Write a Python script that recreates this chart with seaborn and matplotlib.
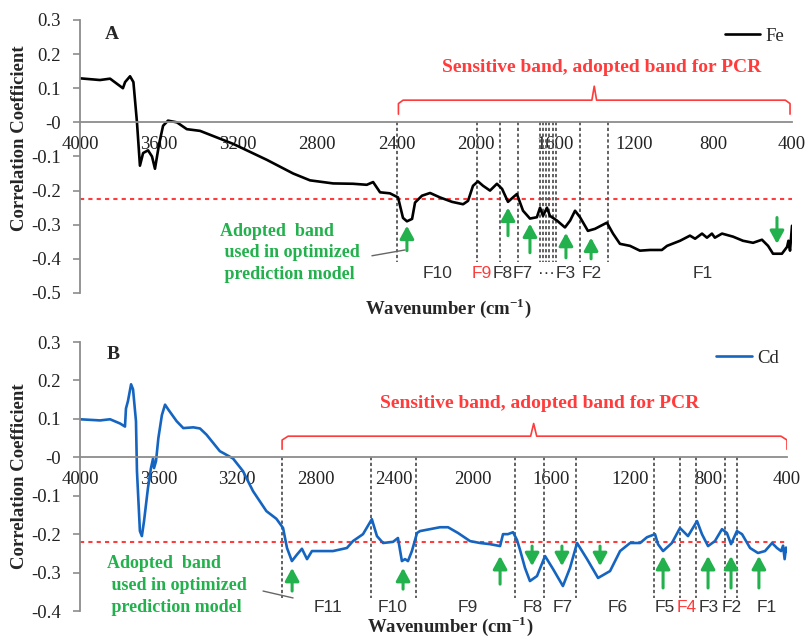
import numpy as np
import pandas as pd
import matplotlib.pyplot as plt
import seaborn as sns

# ---- data ----
fe_wn = [4000, 3899, 3848, 3783, 3772, 3747, 3730, 3712, 3697, 3681,
         3656, 3636, 3621, 3600, 3580, 3555, 3510, 3460, 3393, 3226,
         3055, 2922, 2837, 2720, 2620, 2550, 2518, 2483, 2433, 2392,
         2367, 2347, 2321, 2306, 2271, 2230, 2180, 2119, 2063, 2038,
         2013, 1988, 1962, 1927, 1892, 1866, 1836, 1811, 1791, 1760,
         1725, 1690, 1674, 1659, 1639, 1624, 1588, 1548, 1522, 1497,
         1472, 1432, 1396, 1336, 1305, 1270, 1219, 1169, 1118, 1058,
         1032, 966, 916, 890, 855, 830, 805, 790, 754, 698,
         648, 597, 552, 521, 496, 451, 425, 418, 410, 400]
fe_r = [0.129, 0.124, 0.128, 0.100, 0.118, 0.135, 0.118, 0.000, -0.127, -0.090,
        -0.082, -0.100, -0.136, -0.063, -0.010, 0.005, 0.000, -0.020, -0.025, -0.063,
        -0.110, -0.150, -0.170, -0.179, -0.180, -0.183, -0.175, -0.205, -0.208, -0.220,
        -0.280, -0.290, -0.283, -0.235, -0.215, -0.207, -0.220, -0.233, -0.240, -0.230,
        -0.186, -0.173, -0.186, -0.200, -0.180, -0.195, -0.233, -0.220, -0.210, -0.259,
        -0.282, -0.278, -0.250, -0.274, -0.250, -0.274, -0.288, -0.308, -0.288, -0.259,
        -0.278, -0.318, -0.312, -0.294, -0.326, -0.356, -0.362, -0.376, -0.374, -0.374,
        -0.362, -0.347, -0.332, -0.341, -0.326, -0.338, -0.326, -0.338, -0.326, -0.335,
        -0.347, -0.353, -0.344, -0.362, -0.385, -0.385, -0.365, -0.347, -0.376, -0.303]

cd_wn = [4000, 3898, 3847, 3796, 3771, 3766, 3756, 3740, 3730, 3715,
         3710, 3695, 3685, 3674, 3654, 3639, 3628, 3623, 3613, 3601,
         3583, 3567, 3550, 3508, 3474, 3423, 3389, 3356, 3288, 3221,
         3170, 3119, 3051, 3000, 2966, 2946, 2921, 2895, 2870, 2844,
         2819, 2712, 2641, 2610, 2559, 2514, 2488, 2457, 2406, 2381,
         2361, 2345, 2330, 2310, 2284, 2269, 2218, 2167, 2126, 2075,
         2014, 1963, 1912, 1861, 1846, 1821, 1795, 1775, 1760, 1734,
         1709, 1673, 1632, 1591, 1541, 1505, 1469, 1418, 1362, 1301,
         1250, 1199, 1148, 1113, 1072, 1057, 1031, 986, 945, 904,
         858, 833, 802, 767, 731, 706, 685, 655, 629, 588,
         548, 512, 476, 451, 430, 420, 412, 405, 400]
cd_r = [0.099, 0.096, 0.099, 0.088, 0.080, 0.127, 0.146, 0.190, 0.177, 0.094,
        -0.036, -0.192, -0.205, -0.166, -0.080, -0.029, -0.003, -0.028, -0.010, 0.050,
        0.110, 0.137, 0.124, 0.094, 0.076, 0.078, 0.075, 0.059, 0.016, -0.003,
        -0.036, -0.088, -0.140, -0.160, -0.184, -0.236, -0.270, -0.253, -0.238, -0.265,
        -0.244, -0.244, -0.236, -0.218, -0.200, -0.161, -0.205, -0.223, -0.220, -0.210,
        -0.270, -0.265, -0.270, -0.244, -0.197, -0.192, -0.187, -0.182, -0.182, -0.197,
        -0.218, -0.223, -0.226, -0.231, -0.200, -0.200, -0.195, -0.215, -0.240, -0.288,
        -0.322, -0.309, -0.257, -0.291, -0.335, -0.288, -0.223, -0.265, -0.314, -0.296,
        -0.244, -0.223, -0.223, -0.208, -0.200, -0.226, -0.244, -0.223, -0.184, -0.205,
        -0.166, -0.200, -0.231, -0.218, -0.187, -0.197, -0.226, -0.192, -0.200, -0.236,
        -0.249, -0.244, -0.223, -0.236, -0.244, -0.230, -0.265, -0.235, -0.245]

# band boundaries (cm-1)
fe_bounds = [2397, 1993, 1876, 1785, 1674, 1659, 1644, 1629, 1609, 1593, 1472, 1330]
cd_bounds = [2971, 2518, 2289, 1785, 1637, 1474, 1077, 945, 863, 716, 655]

fe_flabels = ["F10", "F9", "F8", "F7", "···", "F3", "F2", "F1"]
fe_flabel_wn = [2190, 1967, 1861, 1760, 1644, 1543, 1411, 850]
fe_flabel_red = ["F9"]
cd_flabels = ["F11", "F10", "F9", "F8", "F7", "F6", "F5", "F4", "F3", "F2", "F1"]
cd_flabel_wn = [2737, 2406, 2024, 1693, 1541, 1260, 1025, 912, 800, 680, 502]
cd_flabel_red = ["F4"]

# adopted-band arrows: position, tip and tail
fe_arrow_wn = [2347, 1836, 1725, 1543, 1416, 476]
fe_arrow_tip = [-0.303, -0.250, -0.297, -0.324, -0.338, -0.356]
fe_arrow_tail = [-0.376, -0.332, -0.382, -0.397, -0.400, -0.279]
cd_arrow_wn = [2920, 2355, 1861, 1698, 1546, 1352, 1031, 802, 685, 543]
cd_arrow_tip = [-0.288, -0.288, -0.257, -0.283, -0.283, -0.283, -0.257, -0.257, -0.257, -0.257]
cd_arrow_tail = [-0.348, -0.343, -0.330, -0.231, -0.231, -0.231, -0.340, -0.340, -0.340, -0.340]

GREEN = "#22b14c"
RED = "#ff3b3b"
AXGRAY = "#8c8c8c"
BLUE = "#1565c0"

sns.set_theme(style="white")
plt.rcParams["font.family"] = ["Liberation Serif", "DejaVu Serif"]
plt.rcParams["axes.unicode_minus"] = False
plt.rcParams["mathtext.fontset"] = "custom"
plt.rcParams["mathtext.rm"] = "Liberation Serif"
plt.rcParams["mathtext.bf"] = "Liberation Serif:bold"

fig = plt.figure(figsize=(8.09, 6.38), dpi=100)


def brace(ax, left, right, center, base, mid, tip):
    d = (left - right) * 0.012
    c = (left - right) * 0.006
    xs = [left, left, left - d, center + c, center, center - c, right + d, right, right]
    ys = [base, mid - 0.01, mid, mid, tip, mid, mid, mid - 0.01, base]
    ax.plot(xs, ys, color=RED, lw=1.2, solid_joinstyle="round")


def panel(rect, wn, r, color, name, letter, ylim, thresh, bounds, band_bot,
          flabels, flabel_wn, flabel_red, flabel_y,
          arrow_wn, arrow_tip, arrow_tail,
          brace_args, brace_text_xy, note_xy, note_line, letter_xy,
          ylabel_xy, xlabel_xy, legend_anchor):
    ax = fig.add_axes(rect)
    df = pd.DataFrame({"wn": wn, "r": r})
    sns.lineplot(data=df, x="wn", y="r", ax=ax, color=color, lw=1.9,
                 estimator=None, sort=False, label=name)
    ax.set_xlim(4000, 400)
    ax.set_ylim(*ylim)

    ax.spines["top"].set_visible(False)
    ax.spines["right"].set_visible(False)
    ax.spines["bottom"].set_position(("data", 0))
    for s in ["left", "bottom"]:
        ax.spines[s].set_color(AXGRAY)
        ax.spines[s].set_linewidth(1.3)
    ax.set_xticks(np.arange(4000, 399, -400))
    ax.set_yticks(np.round(np.arange(ylim[0], ylim[1] + 0.001, 0.1), 1))
    ax.yaxis.set_major_formatter(plt.FuncFormatter(lambda v, p: f"{v:g}"))
    ax.tick_params(axis="x", direction="inout", length=6, width=1.2, color=AXGRAY,
                   labelsize=13.5, pad=7, labelcolor="#222222")
    ax.tick_params(axis="y", direction="out", length=5, width=1.2, color=AXGRAY,
                   labelsize=13.5, pad=9, labelcolor="#222222", left=True)

    ax.set_xlabel(r"Wavenumber (cm$^{\mathbf{-1}}$)", fontsize=13.5, fontweight="bold")
    ax.xaxis.set_label_coords(*xlabel_xy)
    ax.set_ylabel("Correlation Coefficient", fontsize=13.5, fontweight="bold")
    ax.yaxis.set_label_coords(*ylabel_xy)

    # threshold line
    ax.axhline(thresh, color=RED, lw=1.5, ls=(0, (2, 2)), zorder=1)
    # band boundaries
    for b in bounds:
        ax.plot([b, b], [0, band_bot], color="#555555", lw=1.3, ls=(0, (1.8, 1.4)), zorder=1)
    # band names
    for lab, x in zip(flabels, flabel_wn):
        ax.text(x, flabel_y, lab, ha="center", va="center", fontsize=12.5,
                family=["Liberation Sans", "DejaVu Sans"],
                color=RED if lab in flabel_red else "#333333")
    # arrows
    for x, t, s in zip(arrow_wn, arrow_tip, arrow_tail):
        ax.annotate("", xy=(x, t), xytext=(x, s),
                    arrowprops=dict(arrowstyle="-|>,head_width=0.3,head_length=0.55",
                                    color=GREEN, lw=2.2, shrinkA=0, shrinkB=0,
                                    mutation_scale=14))
    # bracket and caption
    brace(ax, *brace_args)
    ax.text(*brace_text_xy, "Sensitive band, adopted band for PCR", color=RED,
            fontsize=14, fontweight="bold", ha="center", va="center")
    # note
    ax.text(*note_xy, "Adopted  band\n used in optimized\n prediction model", color=GREEN,
            fontsize=13, fontweight="bold", ha="left", va="top", linespacing=1.36)
    ax.plot(note_line[0], note_line[1], color="#666666", lw=1.0)
    ax.text(*letter_xy, letter, transform=ax.transAxes, fontsize=14, fontweight="bold",
            ha="center", va="center")
    ax.legend(loc="upper right", bbox_to_anchor=legend_anchor, frameon=False,
              fontsize=13.5, handlelength=1.9, handletextpad=0.3, borderaxespad=0)
    return ax


panel([0.0989, 0.5408, 0.8801, 0.4279], fe_wn, fe_r, "black", "Fe", "A",
      (-0.5, 0.3), -0.225, fe_bounds, -0.41,
      fe_flabels, fe_flabel_wn, fe_flabel_red, -0.444,
      fe_arrow_wn, fe_arrow_tip, fe_arrow_tail,
      (2390, 410, 1400, 0.024, 0.065, 0.106), (1361, 0.162),
      (3292, -0.294), ([2524, 2357], [-0.391, -0.374]), (0.045, 0.945),
      (-0.073, 0.568), (0.517, -0.01), (1.0, 1.0))

panel([0.0989, 0.0423, 0.8739, 0.4216], cd_wn, cd_r, BLUE, "Cd", "B",
      (-0.4, 0.3), -0.22, cd_bounds, -0.366,
      cd_flabels, cd_flabel_wn, cd_flabel_red, -0.392,
      cd_arrow_wn, cd_arrow_tip, cd_arrow_tail,
      (2971, 400, 1690, 0.021, 0.055, 0.088), (1658, 0.140),
      (3863, -0.255), ([3068, 2915], [-0.348, -0.366]), (0.047, 0.952),
      (-0.0735, 0.5), (0.523, -0.012), (1.0, 1.0))

fig.savefig("out.png", dpi=100)
